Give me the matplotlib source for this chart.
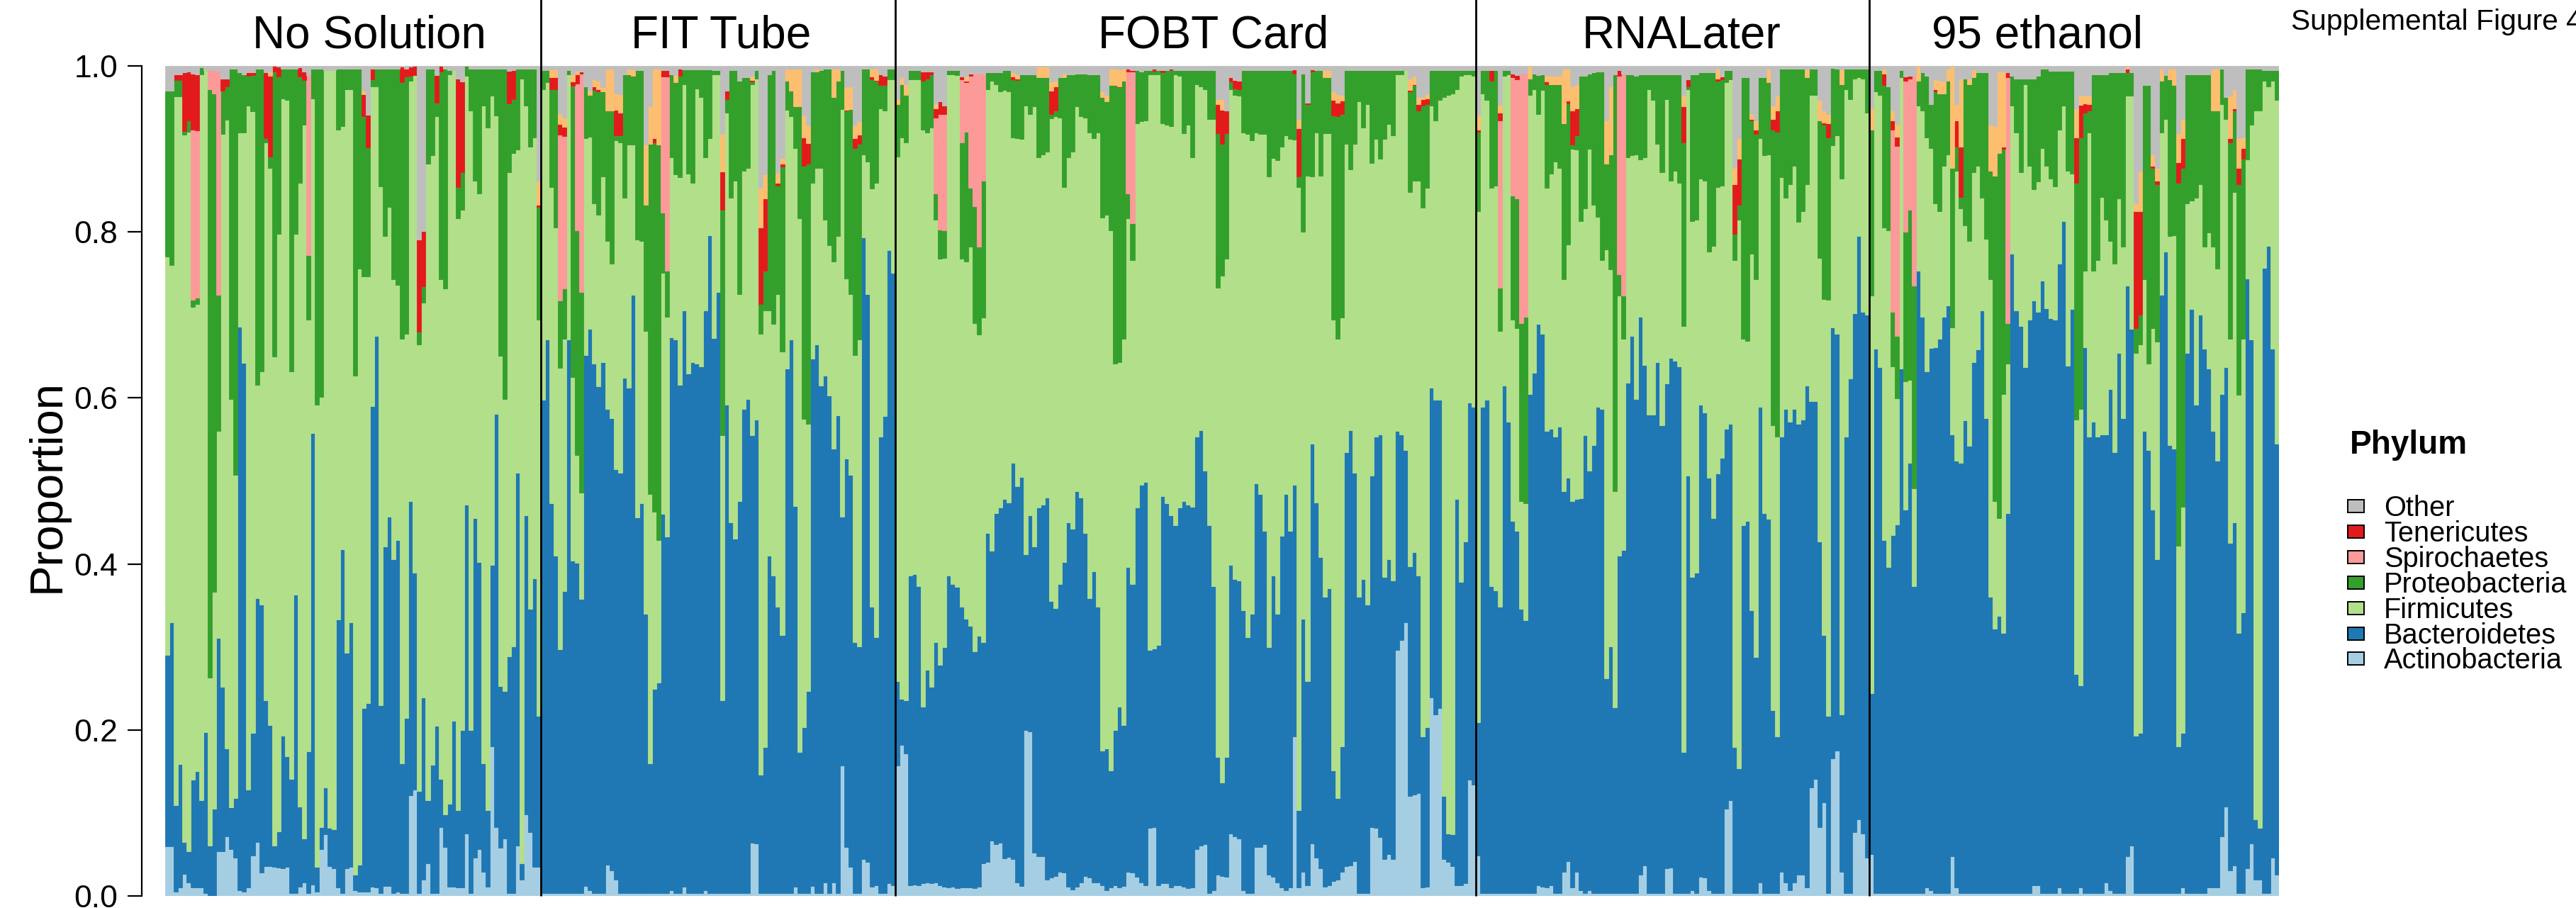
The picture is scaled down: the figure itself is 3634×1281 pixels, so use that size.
import matplotlib.pyplot as plt
from matplotlib.patches import Rectangle
import matplotlib.transforms as mtransforms
import numpy as np

plt.rcParams['font.family'] = ['Liberation Sans', 'DejaVu Sans']

groups = ['No Solution', 'FIT Tube', 'FOBT Card', 'RNALater', '95 ethanol']
legend_names = ['Other', 'Tenericutes', 'Spirochaetes', 'Proteobacteria',
                'Firmicutes', 'Bacteroidetes', 'Actinobacteria']

# ---- percent of reads per sample, ten samples per line ----
# No Solution
actino_ns = [
    6, 6, 0.5, 1, 2.6, 1.6, 1, 1, 1, 0.3,
    0, 0, 5.4, 5.4, 7.2, 5.6, 4.6, 0.7, 0.5, 1,
    4.9, 6.5, 2.8, 3.6, 3.6, 3.5, 3.4, 3.3, 3.5, 0.3,
    0.3, 1.1, 1.6, 0.3, 1.4, 0.5, 5.6, 7.4, 3.6, 3.3,
    1, 0.3, 3.3, 3.5, 0.7, 0.5, 0.5, 0.5, 1.1, 1,
    0.3, 1.2, 1.2, 0.3, 0.5, 0.3, 0.3, 12.1, 12.8, 0.3,
    2, 3.9, 0.3, 0.3, 8.3, 5.9, 1.1, 1.1, 1, 1,
    7.5, 0.3, 4.6, 5.6, 2.9, 1.1, 18, 8.3, 5.8, 6.9,
    0.3, 0.3, 6.1, 2, 9.8, 7.7, 3.5, 3.5]
bactero_ns = [
    23, 27, 10.5, 15, 3.9, 3.8, 13, 14, 10.5, 19.4,
    6.1, 10.5, 25.7, 19.8, 10.6, 5.1, 7.2, 67.9, 63.7, 11.8,
    14.7, 29.4, 32.3, 20, 17, 2.6, 4.4, 16, 13.3, 13.8,
    36, 9.7, 5.3, 17.1, 54.4, 3, 2.7, 5.7, 4.6, 4.7,
    32.3, 41.5, 26, 29.5, 1.9, 3.3, 22.1, 22.7, 57.9, 66.5,
    22.7, 40.9, 44.5, 40.3, 42.4, 15.7, 21.1, 35.5, 26.1, 12.3,
    21.9, 7.6, 15.5, 20.2, 5.8, 3.9, 10, 20, 9.3, 19,
    39.6, 19.7, 40.9, 34.6, 13.1, 9.2, 21.9, 49.8, 19.5, 17.8,
    28.6, 29.8, 44.9, 1.9, 36.1, 26.9, 34.8, 18.2]
firmi_ns = [
    48, 43, 86, 81, 85, 86.7, 57, 56.3, 87.5, 79.8,
    20.2, 26.1, 24.9, 66.6, 75.7, 49.2, 38.9, 23.4, 27.8, 82.4,
    74.9, 25.7, 28.1, 67.2, 67.1, 58.9, 72, 76.8, 79.1, 49.1,
    43.5, 75.1, 86, 52, 40.3, 55.7, 51.8, 86.4, 91.3, 91.5,
    59, 50.9, 67.9, 64.2, 60.1, 71.8, 52, 51.4, 38.5, 30,
    62.5, 37.4, 37.3, 33.7, 30.7, 51.1, 46.3, 50.6, 60, 53.8,
    47.6, 76.7, 73.4, 73.4, 60.2, 63.4, 87.9, 78.4, 71.3, 62.7,
    51.7, 74.6, 40.7, 44.4, 79.2, 82.3, 56.5, 35.9, 39.8, 35.2,
    58.3, 59.4, 38.9, 94.6, 49.3, 55.7, 53.1, 47.7]
proteo_ns = [
    20, 21, 2, 2, 0.5, 1.3, 0.8, 0.8, 0.8, 0,
    70.9, 60.1, 16.4, 5.2, 4, 39.8, 49, 7.2, 7, 3.6,
    4.4, 38.1, 36.5, 0.5, 1.4, 34.3, 18.9, 3.6, 3.8, 36.5,
    19.9, 12.8, 5.4, 7.8, 3.6, 40.5, 39.6, 0, 0, 0,
    7.4, 7, 2.5, 2.5, 37, 24.1, 19.3, 15.6, 0.9, 2.2,
    14.2, 20.2, 16.7, 25.4, 26.1, 30.9, 31, 0.6, 0, 1.6,
    1.9, 11.5, 10.5, 1.7, 25, 26.5, 0.5, 0, 3.8, 4.5,
    1.2, 5.1, 13.5, 15.1, 4.5, 7.1, 3.3, 5.7, 34.6, 39.8,
    8.3, 6.5, 9.8, 1.2, 4.5, 9.4, 8.3, 13.6]
other_ns = [
    3, 3, 1, 1, 0.8, 0.7, 0.9, 1, 0.2, 0.5,
    0.5, 0.5, 0.6, 1.5, 1.5, 0.3, 0.3, 0.8, 1, 0.8,
    0.8, 0.3, 0.3, 0.8, 0.7, 0, 0.1, 0.3, 0.3, 0.3,
    0.3, 0.2, 0.7, 1.1, 0.3, 0.3, 0.3, 0.5, 0.5, 0.5,
    0.3, 0.3, 0.3, 0.3, 0.3, 0.3, 3, 5.9, 0.3, 0.3,
    0.3, 0.3, 0.3, 0.3, 0.3, 0.1, 0.3, 0.1, 0, 20.9,
    19.9, 0.3, 0.3, 1.1, 0, 0.3, 0.5, 0.5, 1.5, 1.9,
    0, 0.3, 0.3, 0.3, 0.3, 0.3, 0.3, 0.3, 0.3, 0.3,
    0.6, 0.5, 0.3, 0.3, 0.3, 0.3, 0.3, 13.9]
# sparse phyla: sample index -> percent
spiro_ns = {6: 20.5, 7: 20.1, 10: 2.3, 11: 2.8, 12: 27, 33: 21.7}
teneri_ns = {2: 0.7, 3: 0.7, 4: 7, 5: 5.9, 6: 6.8, 7: 6.8, 13: 1.5, 14: 1, 19: 0.4,
             20: 0.3, 23: 7.9, 24: 9.7, 25: 0.7, 26: 1.2, 31: 1.1, 32: 1, 46: 2.7,
             47: 3.9, 48: 1.3, 55: 1.9, 56: 1, 57: 1.1, 58: 1.1, 59: 11.1, 60: 6.7,
             63: 3.3, 64: 0.7, 68: 13.1, 69: 10.9, 80: 3.9, 81: 3.5, 87: 0.3}
orange_ns = {24: 0.5, 46: 0.4, 87: 2.8}

# FIT Tube
actino_fit = [
    0.3, 0.3, 0.3, 0.3, 0.3, 0.3, 0.3, 0.3, 0.3, 0.3,
    1.2, 0.7, 0.3, 0.3, 0.3, 3.8, 3.1, 2, 0.3, 0.3,
    0.3, 0.3, 0.3, 0.3, 0.3, 0.3, 0.3, 0.3, 0.3, 0.3,
    0.7, 0.3, 0.3, 1.1, 0.3, 0.3, 0.3, 0.3, 0.7, 0.3,
    0.3, 0.3, 0.3, 0.3, 0.3, 0.3, 0.3, 0.3, 0.3, 6.4,
    6.3, 0.3, 0.3, 0.3, 0.3, 0.3, 0.3, 0.3, 0.3, 1.1,
    0.3, 0.3, 0.3, 1.2, 0.3, 0.3, 1.6, 0.3, 1.6, 0.3,
    15.7, 5.9, 3.5, 0.3, 0.3, 4.4, 4.1, 1.1, 1.3, 0.3,
    0.3, 1.5, 1.3]
bactero_fit = [
    59.5, 66.7, 47, 40.7, 29.3, 36.2, 66.7, 40.1, 39.8, 35.5,
    64, 67.6, 63.8, 61.1, 64, 54.9, 54.5, 49.4, 50.7, 62.1,
    60.9, 72.1, 45.3, 47, 33.7, 15.7, 24.6, 25.4, 45.7, 43,
    66.6, 66.7, 61.3, 69.4, 62.6, 64, 63.8, 63.5, 69.8, 79.3,
    66.9, 72.5, 23.3, 58.9, 44.7, 42.7, 47.3, 58.4, 59.6, 49.1,
    51.1, 14.3, 17.6, 40.7, 38.3, 34.5, 31.1, 63.2, 66.7, 45.9,
    17, 20, 24.4, 63.5, 66.1, 61.2, 61.1, 60, 52.3, 57.6,
    30, 46.8, 47.2, 30.3, 29.8, 74.9, 68.4, 33.7, 29.9, 55,
    57.5, 76.3, 73.8]
firmi_fit = [
    37.4, 31, 38.1, 39.5, 33.8, 30.3, 32, 22.2, 13, 12.8,
    26.1, 23.2, 19.3, 20.7, 22.4, 20.2, 18.6, 39.6, 39.8, 21.7,
    29.3, 18.1, 33.5, 31.6, 34.1, 32.4, 21.4, 17.2, 29.1, 26.5,
    21.7, 19.9, 25, 27.3, 24.1, 21.6, 33.2, 32.4, 18.5, 11.7,
    31.8, 26.2, 31.9, 35.2, 39.1, 43.2, 24.9, 28.7, 27.8, 42.3,
    41.1, 53.1, 52.6, 29.5, 30.3, 37.7, 34.2, 31.2, 26.9, 43.1,
    64.3, 37.2, 32.2, 21.2, 21.3, 26.2, 18.8, 18.1, 22.5, 21.6,
    49.1, 21.7, 21.8, 34.6, 36.9, 10, 16, 50.4, 54.7, 39.6,
    36.8, 20.6, 23.3]
proteo_fit = [
    2.3, 1.5, 11.8, 16.7, 8.1, 6, 0.5, 35.1, 27.1, 24.2,
    6.2, 5, 13.7, 14.8, 10.2, 15.7, 18.4, 0.6, 0.8, 14.9,
    8.5, 8.3, 20.4, 20.6, 15.2, 42.2, 44.5, 47.6, 7.2, 5.5,
    10, 11.1, 12.2, 1.8, 12.6, 13.7, 2.3, 3.4, 10.6, 8.3,
    0.5, 0.5, 27.2, 1.6, 15.4, 13.3, 25.7, 11.2, 10.9, 0.3,
    1, 3.6, 4.8, 28.5, 30.6, 13.1, 22.3, 3.5, 3.1, 5,
    13.5, 30.5, 31.3, 13.4, 11.6, 11.8, 18.2, 21.3, 19.8, 18.7,
    4.7, 20.2, 22.3, 24.9, 23.6, 10.4, 11.2, 13.2, 12.3, 2.8,
    3.1, 1.3, 1.3]
other_fit = [
    0.5, 0.5, 0.4, 0.4, 5.7, 6.2, 0.5, 1, 0.6, 0.7,
    2.5, 3, 1.6, 1.8, 2.6, 0.3, 0.3, 3.3, 3.4, 1,
    0.3, 0.4, 0.5, 0.5, 9.5, 4.9, 0.3, 0.3, 0.5, 0.5,
    1, 1.1, 0.3, 0.4, 0.4, 0.4, 0.4, 0.4, 0.4, 0.4,
    0.5, 0.5, 8.2, 3, 0.5, 0.5, 1.8, 1.4, 1.4, 1.2,
    0.5, 14.7, 13.1, 1, 0.5, 12.9, 11.1, 0.3, 0.4, 0.3,
    0.3, 6, 7.2, 0.7, 0.3, 0.5, 0.3, 0.3, 0.3, 0.3,
    0.5, 2.6, 2.5, 7.2, 6.7, 0.3, 0.3, 0.3, 0.3, 1,
    1.2, 0.3, 0.3]
spiro_fit = {4: 19.9, 5: 18.3, 8: 17.7, 9: 26.3, 28: 16.4, 29: 23.4}
teneri_fit = {2: 1.4, 3: 1.4, 4: 1.3, 5: 1.1, 7: 0.5, 8: 1.1, 9: 0.2, 12: 0.4, 13: 0.3,
              17: 3.1, 18: 2.8, 26: 0.5, 28: 0.8, 29: 0.8, 32: 0.9, 42: 4.6, 43: 1,
              49: 0.2, 51: 9.2, 52: 8.7, 55: 0.3, 56: 0.3, 61: 3.4, 62: 2.5, 71: 0.1,
              73: 1.2, 74: 1.1, 77: 0.3, 78: 0.1, 79: 1.3, 80: 1.1}
orange_fit = {2: 1, 3: 1, 4: 1.3, 5: 1.1, 7: 0.9, 8: 0.4, 11: 0.5, 12: 0.9, 13: 1,
              14: 0.5, 15: 5.1, 16: 5.1, 17: 2, 18: 2.2, 20: 0.7, 21: 0.8, 24: 7.2,
              25: 4.5, 26: 8.4, 27: 9.2, 31: 0.9, 42: 4.5, 49: 0.5, 51: 4.8, 52: 2.9,
              55: 1.2, 56: 0.7, 57: 1.5, 58: 2.6, 59: 4.6, 60: 4.6, 61: 2.6, 62: 2.1,
              64: 0.4, 68: 3.5, 69: 1.5, 71: 2.7, 72: 2.7, 73: 1.5, 74: 1.6, 77: 1,
              78: 1.4}

# FOBT Card
actino_fobt = [
    15.7, 18.2, 17.2, 1.3, 1.4, 1.3, 1.5, 1.6, 1.5, 1.6,
    1.3, 1.1, 1, 1.1, 0.9, 1, 1, 1, 0.9, 1.1,
    3.9, 4.1, 6.7, 6.2, 6.4, 4.5, 4.7, 4.4, 1.6, 1.2,
    20, 19.8, 5.2, 4.8, 4.8, 2, 2.2, 2.4, 2.9, 2.8,
    1.1, 0.8, 1.1, 1.6, 2.4, 2.2, 1.6, 1.6, 1.3, 0.7,
    1, 1.3, 1, 1.2, 2.9, 2.8, 2.3, 1.6, 1.3, 8.2,
    8.3, 1.3, 1.5, 1.5, 1, 1.3, 1.3, 1.1, 0.9, 1,
    5.6, 6.1, 6.2, 0.3, 0.7, 2.6, 2.4, 2.3, 7.5, 7.2,
    6.9, 0.7, 0.3, 0.3, 5.9, 5.9, 6.2, 2.6, 2.3, 1.6,
    1, 0.7, 1, 19.2, 1, 2.9, 1.3, 6.3, 4.6, 3.3,
    1.1, 1.3, 1.8, 2, 2.9, 3.6, 3.7, 4.2, 0.3, 0.3,
    0.3, 8.3, 8.2, 7.1, 4.4, 5, 4.4, 29.6, 30.8, 33,
    12, 12.2, 12.4, 1, 1.1, 23.9, 21.9, 22.6, 4.4, 4.1,
    3.6, 1.3, 1.3, 1.5, 14, 13.4]
bactero_fobt = [
    10.2, 5.5, 6.4, 37.3, 37.4, 36, 21.3, 25.6, 23.7, 29,
    26.5, 28.9, 37.6, 36.5, 36.3, 33.8, 32.4, 31.5, 28.6, 30.2,
    26.7, 39.6, 34.9, 39.9, 40.4, 43.3, 42.7, 47.8, 47.8, 49.3,
    21.2, 26.1, 36.9, 42, 42.3, 46, 33.3, 32.3, 34.7, 37.4,
    43.9, 43.4, 47.7, 46.4, 41.3, 33.7, 37.5, 33.2, 16.2, 17.1,
    14.1, 18.7, 21.8, 19.4, 36.7, 34.8, 44.5, 47.9, 48.6, 21.4,
    21.5, 28.9, 46.7, 45.8, 44.9, 43.4, 45.5, 46.5, 46.2, 45.9,
    49.7, 50, 45, 44.4, 36.6, 14.1, 11.3, 14.4, 32.4, 31,
    31.1, 33.7, 30.9, 33.7, 43.8, 42.5, 37.8, 27.4, 36.3, 32.4,
    42.4, 47.7, 43, 30.3, 9.3, 30.5, 24.6, 48.2, 42.8, 37.5,
    34.9, 35.8, 13.3, 9.8, 15.1, 49.9, 52.4, 46.8, 35.7, 37.9,
    34.8, 42.3, 47.1, 48.5, 34, 35.6, 33.6, 26.4, 24.8, 20.7,
    27.7, 29.2, 26.2, 18.2, 19.2, 37.3, 37.9, 37.2, 7.6, 3.4,
    3.8, 46.5, 36.5, 41.2, 45.4, 45.5]
firmi_fobt = [
    63.2, 67.7, 67.2, 59.8, 59.6, 61.1, 69.5, 64.8, 67.4, 50.9,
    49, 46.9, 60.4, 61.4, 61.7, 42, 43, 45.7, 39.5, 36.3,
    39.1, 53.5, 56.6, 51.7, 50.1, 49.3, 49.5, 39.2, 41.9, 40.7,
    54, 48.3, 53, 42.2, 42.2, 41.7, 58.2, 59.2, 56.2, 45.2,
    44, 45.5, 46.3, 45.9, 50.1, 56.1, 52.2, 57.2, 64.2, 64.3,
    65.1, 44.1, 41.5, 46.5, 42, 39, 46.3, 43.8, 43.5, 69.4,
    69.2, 68.8, 44.9, 45.6, 46.8, 54.3, 52, 44.3, 45.8, 42.1,
    42.5, 41.4, 46, 48.9, 56.3, 56.6, 61, 60.1, 57.3, 58.3,
    58.4, 57.6, 60.6, 57, 42.3, 43.4, 47.8, 56.7, 50.3, 54.6,
    46.9, 43.2, 47.2, 41.6, 75.1, 46.6, 60.9, 32.2, 44.6, 46,
    55.9, 54.8, 54.3, 55.3, 51.7, 37.1, 31.4, 39.6, 59.7, 54.4,
    60.3, 37.7, 35.9, 33.2, 52.8, 52.4, 53.6, 43, 43.4, 45.8,
    45.1, 44.8, 47.6, 63.7, 65, 34, 33.6, 36.1, 84.2, 89,
    89.3, 49.4, 61, 56.3, 39.6, 39.9]
proteo_fobt = [
    6.3, 6.4, 5.7, 1.1, 1.1, 1.1, 5.9, 6.5, 6.4, 3.1,
    3.5, 3.3, 0.5, 0.5, 0.6, 14, 15.7, 7.1, 14.1, 10.6,
    16.5, 2, 1, 1.4, 2.3, 2.4, 2.6, 7, 7, 7.8,
    3.8, 4.8, 3.9, 9.6, 9.3, 8.9, 0.5, 0.7, 4.8, 13.2,
    10, 9.3, 4, 5.2, 5.3, 7, 7.7, 7, 14.5, 13.6,
    17.5, 33.6, 33.1, 31.1, 3, 4.4, 6.4, 6, 6.1, 0.5,
    0.4, 0.5, 6.1, 6.6, 6.8, 0.5, 0.7, 7.6, 6.6, 10.5,
    1.7, 2, 2.3, 5.9, 5.9, 18.6, 15.9, 15.1, 0.9, 0.8,
    0.8, 7.5, 7.7, 8.5, 7.5, 7.7, 7.7, 12.8, 10.6, 10.9,
    9.2, 7.9, 8.3, 8, 1.3, 19.1, 8.6, 12.6, 7.5, 12.7,
    6.7, 6.7, 24.6, 26.8, 24.5, 8.9, 12, 8.9, 3.8, 6.9,
    4.1, 11.2, 8.3, 10.7, 8.3, 6.5, 7.9, 0.5, 0.5, 0,
    12.1, 11.5, 8.4, 12.3, 10.1, 4.3, 6.1, 3.6, 3.3, 3,
    2.8, 2.3, 0.7, 0.5, 0.5, 0.7]
other_fobt = [
    4, 1.4, 2.2, 0.5, 0.5, 0.5, 0.7, 0.7, 0.7, 4.6,
    4.3, 4.8, 0.5, 0.5, 0.5, 1.3, 1.3, 0.9, 0.9, 0.9,
    0.9, 0.8, 0.8, 0.8, 0.8, 0.5, 0.5, 0.8, 1, 1,
    1, 1, 1, 0.1, 0.1, 0.1, 1.9, 1.8, 1.4, 0.9,
    1, 1, 0.9, 0.9, 0.9, 1, 1, 1, 3.1, 3.5,
    0.3, 0.3, 0.4, 0.3, 0.3, 0.5, 0.5, 0.7, 0.5, 0.5,
    0.3, 0.5, 0.5, 0.5, 0.3, 0.5, 0.5, 0.5, 0.5, 0.5,
    0.5, 0.5, 0.5, 0.5, 0.5, 4, 4, 5.4, 1.4, 1.7,
    1.8, 0.5, 0.5, 0.5, 0.5, 0.5, 0.5, 0.5, 0.5, 0.5,
    0.5, 0.5, 0.5, 0.4, 6.4, 0.9, 4.4, 0.4, 0.5, 0.5,
    0.5, 0.5, 3.1, 3.4, 3.5, 0.5, 0.5, 0.5, 0.5, 0.5,
    0.5, 0.5, 0.5, 0.5, 0.5, 0.5, 0.5, 0.5, 0.5, 0.5,
    1.5, 1.2, 3.8, 3.8, 3.4, 0.5, 0.5, 0.5, 0.5, 0.5,
    0.5, 0.5, 0.5, 0.5, 0.5, 0.5]
spiro_fobt = {9: 9.2, 10: 13.9, 11: 14, 15: 7.6, 16: 5.9, 17: 13.5, 18: 16, 19: 20.9,
              20: 12.9, 54: 14.7, 55: 18.3}
teneri_fobt = {6: 1.1, 7: 0.8, 8: 0.3, 9: 1.1, 10: 1.5, 11: 1, 15: 0.3, 16: 0.2, 17: 0.3,
               27: 0.3, 28: 0.2, 36: 2.8, 37: 2.9, 52: 0.1, 54: 0.4, 55: 0.2, 60: 0.3,
               62: 0.3, 64: 0.2, 75: 3.5, 76: 4.1, 77: 2.7, 78: 0.5, 79: 1, 80: 1,
               93: 0.5, 94: 5.8, 96: 0.2, 97: 0.3, 102: 1.9, 103: 1.7, 104: 1.6,
               120: 0.2, 121: 0.1, 122: 0.8, 123: 0.8, 124: 0.7}
orange_fobt = {0: 0.6, 1: 0.8, 2: 1.3, 9: 0.5, 16: 0.5, 27: 0.5, 28: 0.5, 33: 1.3,
               34: 1.3, 35: 1.3, 36: 1.1, 37: 0.7, 39: 0.5, 48: 0.7, 49: 0.8, 50: 2,
               51: 2, 52: 2.1, 53: 1.5, 75: 0.6, 76: 1.3, 94: 1.1, 100: 0.9, 101: 0.9,
               102: 1, 103: 1, 104: 0.7, 120: 1.4, 121: 1, 122: 0.8, 123: 0.2, 124: 0.5}

# RNALater
actino_rna = [
    4.9, 0.3, 0.3, 0.3, 0.3, 0.3, 0.3, 0.3, 0.3, 0.3,
    0.3, 0.3, 0.3, 0.3, 1.3, 1.1, 1, 1.3, 0.3, 0.3,
    2.9, 4.2, 1, 2.9, 0.7, 0.3, 0.7, 0.3, 0.3, 0.3,
    0.3, 0.3, 0.3, 0.3, 0.3, 0.3, 0.3, 0.3, 2.6, 3.7,
    0.3, 0.3, 0.3, 0.3, 3.3, 3.4, 0.3, 0.3, 0.3, 0.3,
    0.7, 0.3, 2.3, 2.2, 0.7, 0.3, 0.3, 0.3, 10.5, 11.5,
    0.3, 0.3, 0.3, 0.3, 0.3, 0.3, 1.6, 0.3, 0.3, 0.3,
    0.3, 2.9, 1.6, 0.7, 1.6, 2.6, 2.6, 1, 13.1, 14.1,
    8.3, 11.3, 0.3, 16.7, 17.5, 2.9, 0.3, 0.3, 7.7, 9.2,
    7.5, 4.6]
bactero_rna = [
    16, 58.6, 59.5, 37, 36.5, 34.5, 61.2, 56.8, 44.9, 43.7,
    34.3, 32.9, 60.2, 62.7, 67.6, 66.6, 55, 55, 55, 56.2,
    45.9, 46.2, 46.6, 44.9, 47.2, 55.2, 50.5, 54, 58.6, 58.4,
    25.9, 29.8, 22.4, 40.7, 41.4, 61.5, 67.2, 59.6, 67.2, 60.3,
    57.7, 57.7, 64, 56.4, 58.4, 61.4, 64.2, 63.5, 17, 50.3,
    37.7, 38.6, 56.9, 56, 49.7, 45.2, 50.6, 52.5, 45.8, 45.4,
    17.6, 15.1, 44.4, 44.9, 34.1, 28.5, 57.3, 45.8, 45.1, 22.1,
    18.9, 52.4, 57.1, 56.4, 57.1, 54.3, 54.8, 60.5, 46.5, 45.5,
    34.4, 20.1, 21.4, 52.5, 50.2, 19, 55, 62, 62.5, 70.3,
    62.9, 65.4]
firmi_rna = [
    61.6, 37.8, 36.1, 48, 48.8, 33.3, 37.3, 41.9, 24.2, 24.4,
    13, 14.1, 36, 34.2, 25.3, 29.4, 29.3, 30.7, 33.2, 31.2,
    25.5, 28.1, 42.4, 42.1, 33.4, 27.3, 38.8, 29, 22.9, 17.9,
    51.7, 45.4, 26.1, 31.3, 25.4, 27.2, 21.7, 29.4, 18.9, 25,
    39.2, 37.9, 26.3, 30.5, 34.3, 21.4, 22.9, 22.1, 51.4, 46.6,
    42.9, 42.6, 27.2, 28, 27.2, 32.8, 34.5, 32.8, 41.7, 41.5,
    58.7, 66.1, 22.4, 21.7, 43, 45.5, 32.4, 43.1, 43.9, 34.3,
    36.1, 31.3, 25.4, 28.6, 29.3, 24.3, 25.1, 24.2, 36.9, 36.9,
    34.2, 40.5, 50.1, 22.1, 23.9, 64.5, 41.9, 33.7, 28.3, 19.1,
    28.1, 24.4]
proteo_rna = [
    9.6, 2.8, 3.6, 12.9, 13.9, 5.2, 0.7, 0.5, 15, 15.6,
    21.4, 22.5, 2, 1.9, 4.7, 1.9, 12.5, 10.8, 9.3, 10.1,
    18.8, 17, 0.5, 1.7, 17.5, 16, 9.1, 15.9, 17.5, 22.7,
    10.3, 13.8, 50.2, 2.6, 5.2, 10, 9.8, 9.5, 10.3, 10,
    1.8, 3.1, 8.4, 11.8, 3, 12.8, 11.6, 13.1, 22.1, 0.3,
    17.7, 17.5, 12.8, 13, 21.6, 20.9, 12.8, 12.8, 1.5, 1.1,
    3.2, 1.8, 31.5, 31.7, 16, 17.5, 7.3, 9.4, 8.7, 35.6,
    36.8, 13.1, 15.6, 14, 11.7, 18.5, 17.2, 12.9, 3.2, 3.2,
    16.5, 21, 19.6, 9.4, 8.1, 11.4, 2.5, 3.7, 1.2, 1.1,
    1.2, 5.3]
other_rna = [
    5.9, 0.5, 0.5, 0.5, 0.5, 4.7, 0.5, 0.5, 0.9, 1.1,
    0.9, 0.9, 0, 0.9, 1.1, 1, 1.1, 1.2, 1.2, 1.2,
    0.3, 0.3, 2.5, 2.2, 1.2, 1.2, 0.9, 0.8, 0.7, 0.7,
    6.6, 2.5, 1, 0.5, 0.9, 1, 1, 1.2, 1, 1,
    1, 1, 1, 1, 1, 1, 1, 1, 3.5, 1.6,
    1, 1, 0.8, 0.8, 0.8, 0.8, 0.3, 1.3, 0.5, 0.5,
    12.3, 8.7, 1.4, 1.4, 5.7, 6.6, 1.4, 1.4, 0.3, 4.8,
    3.6, 0.3, 0.3, 0.3, 0.3, 0.3, 0.3, 0.4, 0.3, 0.3,
    4.1, 5.4, 5.8, 0.3, 0.3, 0.4, 0.3, 0.3, 0.3, 0.3,
    0.3, 0.3]
spiro_rna = {5: 20.1, 8: 14.2, 9: 14.4, 10: 30.1, 11: 29.3, 33: 23.9, 34: 26.8}
teneri_rna = {0: 0.2, 3: 1.3, 5: 1, 8: 0.5, 9: 0.5, 16: 0.3, 21: 0.3, 22: 4.1, 23: 3.3,
              33: 0.7, 48: 4.3, 49: 0.9, 56: 0.3, 57: 0.3, 60: 5.9, 61: 5.5, 64: 0.2,
              65: 0.5, 69: 1.3, 70: 2.5, 81: 0.3, 82: 1.7}
orange_rna = {0: 1.8, 5: 0.9, 12: 1.5, 16: 0.8, 17: 1, 18: 1, 19: 1, 20: 6.6, 21: 3.9,
              22: 2.9, 23: 2.9, 30: 5.2, 31: 8.2, 48: 1.4, 56: 1.2, 60: 2, 61: 2.5,
              64: 0.7, 65: 1.1, 68: 1.7, 69: 1.6, 70: 1.8, 77: 1, 80: 2.5, 81: 1.4,
              82: 1.1, 85: 1.8}

# 95 ethanol
actino_eth = [
    5, 0.3, 0.3, 0.3, 0.3, 0.3, 0.3, 0.3, 0.3, 0.3,
    0.3, 0.3, 0.3, 1, 0.7, 0.3, 0.3, 0.3, 0.3, 4.8,
    1, 0.3, 0.3, 0.3, 0.3, 0.3, 0.3, 0.3, 0.3, 0.3,
    0.3, 0.3, 0.3, 0.3, 0.3, 0.3, 0.3, 0.3, 1.3, 1.3,
    0.3, 0.3, 0.3, 0.3, 1, 0.3, 0.3, 0.3, 0.3, 1,
    0.3, 0.3, 0.3, 0.3, 0.3, 1.6, 0.7, 0.3, 0.3, 0.3,
    4.8, 6.1, 0.3, 0.3, 0.3, 0.3, 0.3, 0.3, 0.3, 0.3,
    0.3, 0.3, 0.3, 1, 0.3, 0.3, 0.3, 0.3, 0.3, 1,
    1, 1, 7.2, 10.8, 3.1, 3.7, 0.3, 0.3, 3.3, 6.3,
    2, 2, 0.3, 0.3, 4.6, 2.6]
bactero_eth = [
    19.4, 65.6, 63.4, 42.6, 39.3, 43.2, 44.4, 63.2, 46.2, 51.9,
    37, 75, 69.5, 62.2, 65.3, 65.8, 66.8, 69.5, 70.8, 50.8,
    51.4, 51.9, 57, 53.9, 64, 65.5, 70.2, 57.3, 35.7, 31.9,
    33.4, 31.4, 45.8, 77.1, 70.2, 68.4, 63.4, 69.1, 70.4, 69.1,
    73.8, 70.5, 69.3, 69.1, 75.2, 81, 63.6, 70.4, 26.4, 24.4,
    65.8, 55, 56.8, 55, 55.3, 54, 60.4, 53.2, 65.1, 57.3,
    68.7, 62.2, 19, 19.3, 55.7, 53.4, 46.2, 40.3, 72.1, 77.3,
    54, 53.6, 17.7, 18.6, 65.1, 70.4, 58.9, 69.7, 65.6, 62.5,
    55, 51.4, 53.3, 52.9, 39.4, 41.3, 31.4, 33.9, 71.1, 60.7,
    7.2, 6.2, 75.4, 78, 61.3, 51.9]
firmi_eth = [
    47.9, 31, 32.8, 37.6, 40.6, 20.3, 15.2, 35.1, 15.5, 10,
    11.8, 19.9, 24.8, 28.2, 24.1, 17.3, 15.4, 18.2, 18.2, 12.9,
    35, 30.6, 23.5, 24.7, 22.9, 22.2, 13.6, 21.6, 38.3, 15.4,
    11.8, 28.8, 18, 17.8, 21.5, 18.5, 34.1, 18.6, 13.4, 15.7,
    16, 17.2, 16.8, 16.1, 16.1, 13.9, 23.5, 16.3, 30.7, 33.3,
    9.2, 36.7, 18.2, 21.3, 28.6, 25.9, 17.8, 22.7, 18.6, 20.6,
    22.9, 28.1, 46.1, 46.8, 18.3, 10.4, 21.9, 26.2, 19.6, 16,
    25.2, 25.7, 24.2, 27.3, 18, 13.1, 24.9, 15.7, 12.3, 16.4,
    22.2, 23.2, 34.9, 29.9, 24.6, 39.8, 28.7, 32.9, 14.3, 25.9,
    85.4, 86.4, 22.5, 19.2, 32.3, 41.4]
proteo_eth = [
    20, 2.6, 3, 17.2, 17.3, 6.6, 7.5, 0.9, 18, 20.5,
    24.4, 3, 4.6, 7.4, 5.3, 13.5, 14.2, 8.7, 8.9, 19.2,
    2.9, 1.4, 17.7, 18.9, 11.4, 11.2, 15.1, 20, 13.1, 39.2,
    44, 29.5, 4.9, 3.6, 6.5, 11.3, 0.7, 10.5, 13.4, 12.7,
    9.6, 11.7, 13, 13.9, 7.1, 4.2, 12, 12.4, 28.5, 32.7,
    19.1, 2.6, 23.7, 22.4, 14.8, 17.5, 20.3, 23, 15.2, 21,
    2.8, 2.8, 3, 3.6, 23.4, 33.6, 19.3, 18.9, 6.2, 5.3,
    18.9, 18.1, 43.7, 40.8, 15.6, 15.2, 14.9, 13.3, 20.8, 19.1,
    16.4, 19, 4.3, 2.6, 23.7, 9.8, 25.3, 21.7, 11, 6.8,
    5.1, 5.1, 1.3, 2, 1.3, 3.6]
other_eth = [
    5.1, 0.5, 0.5, 0.3, 2.5, 5.4, 7, 0.5, 1.3, 1.2,
    1.2, 0, 0.8, 1.2, 4.6, 1.6, 1.8, 1.8, 0.3, 0,
    4.6, 1.5, 1.5, 1.5, 0.4, 0.8, 0.8, 0.8, 7.1, 7.3,
    0.7, 0.7, 0.8, 1.2, 1.5, 1.5, 1.5, 1.5, 1.5, 1.2,
    0.3, 0.3, 0.6, 0.6, 0.6, 0.6, 0.6, 0.6, 5.1, 3.5,
    3.6, 3.6, 1, 1, 1, 1, 0.8, 0.8, 0.8, 0.8,
    0, 0.8, 16.6, 12.6, 2.3, 2.3, 10.7, 12.3, 0.3, 1.1,
    0.3, 0.3, 8.1, 6.4, 1, 1, 1, 1, 1, 1,
    0.3, 0.3, 0.3, 3.8, 3.6, 2.8, 8.7, 8.6, 0.3, 0.3,
    0.3, 0.3, 0.5, 0.5, 0.5, 0.5]
spiro_eth = {5: 21.9, 6: 22.9, 8: 18.2, 9: 15.8, 10: 25.3, 32: 29.6}
teneri_eth = {3: 1.4, 5: 1.1, 6: 1.1, 8: 0.5, 9: 0.3, 15: 0.3, 20: 3.1, 21: 6.1, 31: 0.3,
              32: 0.6, 48: 5.5, 49: 3.9, 50: 1.1, 51: 0.8, 60: 0.5, 62: 14.1, 63: 12.5,
              66: 0.3, 67: 0.5, 72: 2.5, 73: 3.6, 84: 0.5, 85: 0.3, 86: 2, 87: 1.3}
orange_eth = {0: 2.6, 3: 0.6, 5: 1.2, 6: 1.5, 11: 1.8, 15: 1.2, 16: 1.5, 17: 1.5, 18: 1.5,
              19: 12.3, 20: 2, 21: 8.2, 23: 0.7, 24: 1, 28: 5.5, 29: 5.9, 30: 9.8, 31: 9,
              48: 3.5, 49: 1.2, 50: 0.9, 51: 1, 60: 0.3, 62: 0.9, 63: 4.9, 66: 1.3,
              67: 1.5, 68: 1.5, 70: 1.3, 71: 2, 72: 3.5, 73: 2.3, 80: 5.1, 81: 5.1,
              84: 5.1, 85: 2.3, 86: 3.6, 87: 1.3}

panels = [
    (actino_ns, bactero_ns, firmi_ns, proteo_ns, spiro_ns, teneri_ns, orange_ns, other_ns),
    (actino_fit, bactero_fit, firmi_fit, proteo_fit, spiro_fit, teneri_fit, orange_fit, other_fit),
    (actino_fobt, bactero_fobt, firmi_fobt, proteo_fobt, spiro_fobt, teneri_fobt, orange_fobt, other_fobt),
    (actino_rna, bactero_rna, firmi_rna, proteo_rna, spiro_rna, teneri_rna, orange_rna, other_rna),
    (actino_eth, bactero_eth, firmi_eth, proteo_eth, spiro_eth, teneri_eth, orange_eth, other_eth),
]

# stacking order bottom -> top; orange layer has no legend entry in the original
colors = ['#A6CEE3', '#1F78B4', '#B2DF8A', '#33A02C', '#FB9A99', '#E31A1C', '#FDBF6F', '#BEBEBE']
legend_colors = ['#BEBEBE', '#E31A1C', '#FB9A99', '#33A02C', '#B2DF8A', '#1F78B4', '#A6CEE3']


def to_array(series, n):
    if isinstance(series, dict):
        arr = np.zeros(n)
        for k, v in series.items():
            arr[k] = v
        return arr
    return np.asarray(series, dtype=float)


blocks = []
sizes = []
for p in panels:
    n = len(p[0])
    blocks.append(np.vstack([to_array(s, n) for s in p]))
    sizes.append(n)
layers = np.hstack(blocks)
layers = layers / layers.sum(axis=0)  # proportions per sample
n_total = layers.shape[1]
x = np.arange(n_total) + 0.5

fig = plt.figure(figsize=(18.17, 6.405), dpi=200)
ax = fig.add_axes([0.06412, 0.01327, 0.82058, 0.91413])

bottom = np.zeros(n_total)
for vals, c in zip(layers, colors):
    ax.bar(x, vals, width=1.0, bottom=bottom, color=c, edgecolor=c, linewidth=0.3)
    bottom += vals

ax.set_xlim(0, n_total)
ax.set_ylim(0, 1)
for s in ['top', 'right', 'bottom']:
    ax.spines[s].set_visible(False)
ax.spines['left'].set_position(('outward', 11.9))
ax.spines['left'].set_bounds(0, 1)
ax.spines['left'].set_linewidth(0.8)
ax.set_xticks([])
ax.set_yticks([0, 0.2, 0.4, 0.6, 0.8, 1.0])
ax.set_yticklabels(['0.0', '0.2', '0.4', '0.6', '0.8', '1.0'])
ax.tick_params(axis='y', length=7.2, width=0.8, pad=5, labelsize=16)

# panel separators run up to the top of the figure
edges = np.cumsum(sizes)[:-1]
ax.vlines(edges, 0, 1.09, colors='black', linewidth=1.0, clip_on=False, zorder=5)

trans = mtransforms.blended_transform_factory(ax.transData, ax.transAxes)
title_pos = [47.8, 130.1, 245.4, 355.1, 438.4]
for name, xp in zip(groups, title_pos):
    ax.text(xp, 1.0222, name, transform=trans, ha='center', va='baseline', fontsize=23)

fig.text(0.0182, 0.4645, 'Proportion', rotation=90, ha='center', va='center', fontsize=23.5)
fig.text(0.8894, 0.9676, 'Supplemental Figure 4', ha='left', va='baseline', fontsize=14.7)

# legend
fig.text(0.9122, 0.5004, 'Phylum', ha='left', va='baseline', fontsize=16.5, fontweight='bold')
W, H = 3634.0, 1281.0
for i, (lab, c) in enumerate(zip(legend_names, legend_colors)):
    yc = 714 + 35.9 * i
    fig.add_artist(Rectangle((3312 / W, 1 - (yc + 9) / H), 23 / W, 18 / H,
                             transform=fig.transFigure, facecolor=c,
                             edgecolor='black', linewidth=0.7))
    fig.text(3363 / W, 1 - (yc + 14) / H, lab, ha='left', va='baseline', fontsize=14.3)

fig.savefig('out.png', dpi=200)
